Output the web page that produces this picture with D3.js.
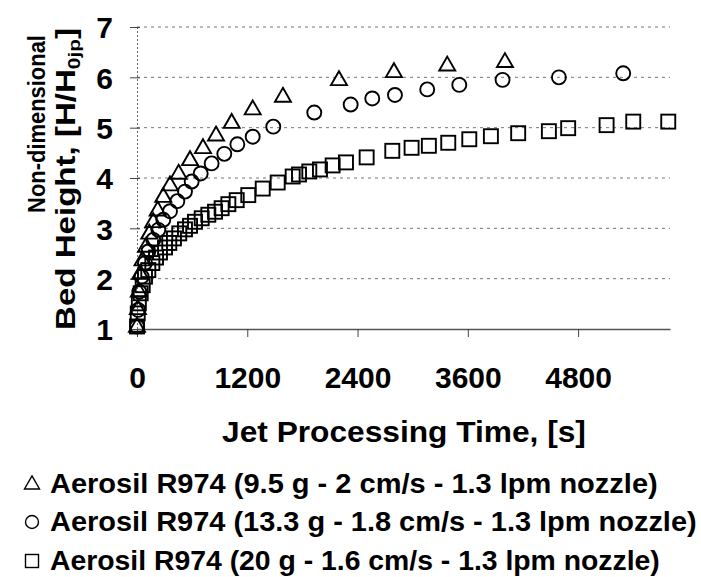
<!DOCTYPE html>
<html>
<head>
<meta charset="utf-8">
<script src="https://cdn.jsdelivr.net/npm/d3@7"></script>
<style>
  html, body { margin: 0; padding: 0; background: #fff; }
  svg { display: block; }
  text { font-family: "Liberation Sans", Arial, Helvetica, sans-serif; font-weight: bold; fill: #000; }
</style>
</head>
<body>
<svg id="chart" width="701" height="577"></svg>
<script>
// ---- data ----
const xTicks = [0, 1200, 2400, 3600, 4800];
const yTicks = [1, 2, 3, 4, 5, 6, 7];

const seriesNames = [
  "Aerosil R974 (9.5 g - 2 cm/s - 1.3 lpm nozzle)",
  "Aerosil R974 (13.3 g - 1.8 cm/s - 1.3 lpm nozzle)",
  "Aerosil R974 (20 g - 1.6 cm/s - 1.3 lpm nozzle)"
];
const seriesShapes = ["triangle", "circle", "square"];

const triTime = [0, 10, 20, 35, 60, 98, 134, 177, 225, 286, 359, 453, 577, 718, 860, 1030, 1259, 1588, 2198, 2796, 3376, 4004];
const triH    = [1.05, 1.4, 1.75, 2.1, 2.37, 2.64, 2.90, 3.13, 3.36, 3.63, 3.86, 4.09, 4.36, 4.60, 4.85, 5.10, 5.37, 5.62, 5.95, 6.11, 6.24, 6.31];

const cirTime = [0, 12, 25, 51, 87, 123, 177, 232, 286, 359, 439, 522, 595, 693, 812, 950, 1092, 1259, 1483, 1929, 2325, 2560, 2807, 3158, 3507, 3978, 4591, 5291];
const cirH    = [1.05, 1.38, 1.74, 2.04, 2.31, 2.54, 2.77, 2.97, 3.17, 3.34, 3.54, 3.73, 3.93, 4.09, 4.29, 4.48, 4.67, 4.82, 5.02, 5.30, 5.46, 5.58, 5.65, 5.76, 5.85, 5.95, 6.00, 6.08];

const sqTime = [0, 8, 20, 40, 62, 87, 123, 167, 207, 250, 305, 351, 402, 460, 522, 577, 631, 704, 776, 849, 921, 994, 1085, 1211, 1368, 1531, 1694, 1763, 1875, 1991, 2129, 2274, 2499, 2778, 2988, 3176, 3387, 3616, 3851, 4148, 4482, 4692, 5110, 5400, 5781];
const sqH    = [1.05, 1.31, 1.51, 1.71, 1.87, 2.04, 2.17, 2.31, 2.42, 2.52, 2.62, 2.71, 2.80, 2.90, 2.98, 3.05, 3.13, 3.20, 3.27, 3.33, 3.40, 3.48, 3.56, 3.66, 3.79, 3.91, 4.03, 4.07, 4.13, 4.17, 4.25, 4.31, 4.41, 4.54, 4.60, 4.64, 4.70, 4.77, 4.83, 4.89, 4.93, 4.99, 5.05, 5.12, 5.12];

// ---- layout ----
const svg = d3.select("#chart");
const X0 = 137, X1 = 670, Y0 = 329, Y1 = 27;
const x = d3.scaleLinear().domain([0, 5800]).range([X0, X1]);
const y = d3.scaleLinear().domain([1, 7]).range([Y0, Y1]);

// gridlines
svg.append("g")
  .selectAll("line").data(yTicks.slice(1)).join("line")
  .attr("x1", X0).attr("x2", X1)
  .attr("y1", d => y(d)).attr("y2", d => y(d))
  .attr("stroke", "#777").attr("stroke-width", 1)
  .attr("stroke-dasharray", "3,4");

// y axis
const yAxis = svg.append("g").attr("transform", `translate(${X0},0)`)
  .call(d3.axisLeft(y).tickValues(yTicks).tickSize(7).tickFormat(d3.format("d")));
yAxis.select(".domain").attr("stroke", "#666").attr("stroke-width", 1).attr("stroke-dasharray", "2,2");
yAxis.selectAll(".tick line").attr("stroke", "#444").attr("stroke-width", 1).attr("x2", -7).attr("x1", 3);
yAxis.selectAll(".tick text").attr("font-size", 30).attr("x", -24).attr("dy", "0.36em")
  .style("font-family", "'Liberation Sans', Arial, sans-serif").style("font-weight", "bold").attr("fill", "#000");

// x axis
const xAxis = svg.append("g").attr("transform", `translate(0,${Y0})`)
  .call(d3.axisBottom(x).tickValues(xTicks).tickSize(8).tickSizeOuter(0).tickFormat(d3.format("d")));
xAxis.select(".domain").attr("stroke", "#555").attr("stroke-width", 1.5);
xAxis.selectAll(".tick line").attr("stroke", "#444").attr("stroke-width", 1);
xAxis.selectAll(".tick text").attr("font-size", 30).attr("y", 59).attr("dy", 0)
  .style("font-family", "'Liberation Sans', Arial, sans-serif").style("font-weight", "bold").attr("fill", "#000");

// helper: stretch a text element along its own direction to a target length
function fit(sel, tx, ty, rot, target) {
  const len = sel.node().getComputedTextLength();
  const k = target / len;
  sel.attr("transform", `translate(${tx},${ty}) rotate(${rot}) scale(${k},1)`);
}

// axis titles
const xt = svg.append("text").attr("text-anchor", "middle").attr("font-size", 30)
  .text("Jet Processing Time, [s]");
fit(xt, 404, 442, 0, 364);

const yt1 = svg.append("text").attr("text-anchor", "middle").attr("font-size", 23)
  .text("Non-dimensional");
fit(yt1, 45, 124, -90, 178);

const yt2 = svg.append("text").attr("text-anchor", "middle").attr("font-size", 27);
yt2.append("tspan").text("Bed Height, [H/H");
yt2.append("tspan").attr("font-size", 17).attr("dy", 5).text("0jp");
yt2.append("tspan").attr("dy", -5).text("]");
fit(yt2, 75, 179, -90, 302);

// markers
function drawShape(g, shape, s) {
  if (shape === "triangle") {
    const h = s * 0.87;
    g.append("path").attr("d", `M0,${-h*0.62}L${s/2},${h*0.38}L${-s/2},${h*0.38}Z`);
  } else if (shape === "circle") {
    g.append("circle").attr("r", s / 2);
  } else {
    g.append("rect").attr("x", -s/2).attr("y", -s/2).attr("width", s).attr("height", s);
  }
}

const seriesData = [
  triTime.map((t, i) => [t, triH[i]]),
  cirTime.map((t, i) => [t, cirH[i]]),
  sqTime.map((t, i) => [t, sqH[i]])
];
const markerSize = [16, 14, 14];

seriesData.forEach((pts, si) => {
  const g = svg.append("g").attr("fill", "none").attr("stroke", "#000").attr("stroke-width", 1.9);
  pts.forEach(p => {
    const m = g.append("g").attr("transform", `translate(${x(p[0])},${y(p[1])})`);
    drawShape(m, seriesShapes[si], markerSize[si]);
  });
});

// legend
const legY = [493, 531, 570];
const legLen = [608, 647, 610];
seriesNames.forEach((name, i) => {
  const m = svg.append("g").attr("transform", `translate(32,${legY[i] - 9})`)
    .attr("fill", "none").attr("stroke", "#000").attr("stroke-width", 1.4);
  drawShape(m, seriesShapes[i], i === 0 ? 15 : 13);
  const t = svg.append("text").attr("font-size", 28).text(name);
  fit(t, 50, legY[i], 0, legLen[i]);
});
</script>
</body>
</html>
